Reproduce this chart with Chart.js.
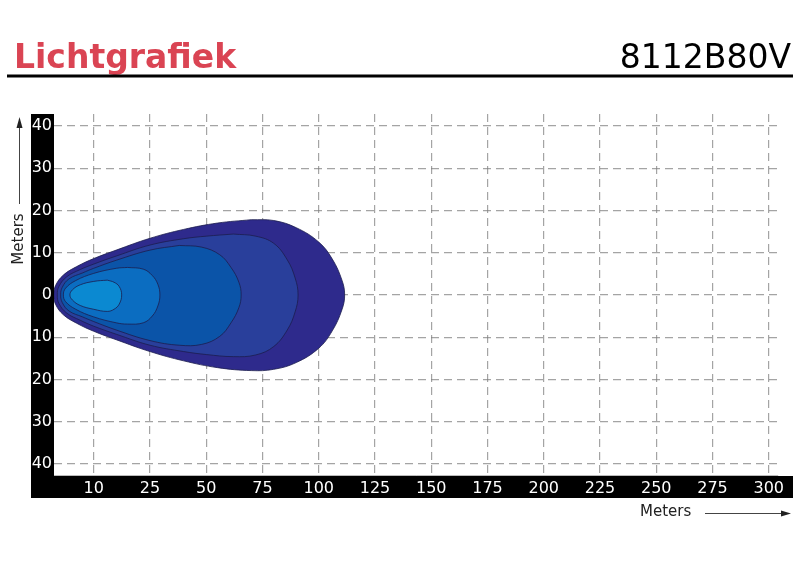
<!DOCTYPE html>
<html>
<head>
<meta charset="utf-8">
<script src="https://cdn.jsdelivr.net/npm/chart.js@4.4.1/dist/chart.umd.min.js"></script>
<style>
  html, body { margin: 0; padding: 0; background: #ffffff; }
  #wrap { width: 800px; height: 574px; }
</style>
</head>
<body>
<div id="wrap"><canvas id="chart" width="800" height="574"></canvas></div>
<script>
// Axis ticks (the first grid line is labelled 10 in the original sheet)
const xTickValues = [0, 25, 50, 75, 100, 125, 150, 175, 200, 225, 250, 275, 300];
const xTickLabels = ['10', '25', '50', '75', '100', '125', '150', '175', '200', '225', '250', '275', '300'];
const yTickValues = [-40, -30, -20, -10, 0, 10, 20, 30, 40];

// Iso-lux contours, [meters ahead, meters sideways]
const contourOuter = [[70, 17.8], [80, 17.6], [90, 15.9], [100, 12.5], [106, 8.5], [110.3, 3.5], [111.5, 0],
  [110.3, -3.5], [106, -8.5], [100, -12.6], [90, -16.0], [80, -17.6], [70, -17.9], [55, -17.2], [40, -15.6],
  [25, -13.4], [10, -10.6], [0, -8.6], [-7.6, -6.7], [-13.5, -4.7], [-17, -2.2], [-17.8, 0], [-17, 2.2],
  [-13.5, 4.7], [-7.6, 6.7], [0, 8.6], [10, 10.6], [25, 13.4], [40, 15.5], [55, 17.0], [70, 17.8]];
const contourSecond = [[62, 14.4], [72, 13.9], [80, 12.2], [86, 8.3], [89.5, 4], [90.8, 0], [89.5, -4],
  [86, -8.3], [80, -12.2], [72, -14.2], [62, -14.6], [50, -14.1], [40, -13.4], [25, -11.9], [10, -9.3],
  [0, -7.4], [-6, -6], [-12, -4.3], [-15.5, -2], [-16.2, 0], [-15.5, 2], [-12, 4.3], [-6, 6], [0, 7.3],
  [10, 9.2], [25, 11.8], [40, 13.3], [50, 13.9], [62, 14.4]];
const contourThird = [[38, 11.7], [48, 11.3], [56, 9.5], [61, 6.5], [64.5, 3], [65.5, 0], [64.5, -3],
  [61, -6.6], [56, -9.8], [48, -11.7], [38, -11.9], [25, -10.8], [10, -8.3], [0, -6.3], [-5, -5.2],
  [-11, -3.8], [-14, -1.8], [-14.7, 0], [-14, 1.8], [-11, 3.8], [-5, 5.2], [0, 6.3], [10, 8.2],
  [25, 10.6], [38, 11.7]];
const contourFourth = [[15, 6.5], [22, 6.1], [26, 4.6], [28.5, 2.5], [29.4, 0], [28.5, -2.6], [26, -5.0],
  [22, -6.6], [15, -6.9], [10, -6.6], [0, -5.2], [-8, -3.4], [-12.5, -1.6], [-13.5, 0], [-12.5, 1.6],
  [-8, 3.4], [0, 5.1], [10, 6.3], [15, 6.5]];
const contourInner = [[6, 3.5], [9, 3.0], [11.3, 2.0], [12.4, 0], [11.3, -2.2], [9, -3.4], [6, -3.9],
  [0, -3.4], [-6, -2.5], [-9.5, -1.2], [-10.6, 0], [-9.5, 1.2], [-6, 2.4], [0, 3.2], [6, 3.5]];

const contours = [contourInner, contourFourth, contourThird, contourSecond, contourOuter];
const fillColors = ['#0b89d1', '#0b6dc1', '#0b54a8', '#293f9b', '#2e2a8c'];

const FONT = "'DejaVu Sans', Verdana, sans-serif";

// black axis bands, title, rule and axis names
const decor = {
  id: 'decor',
  beforeDraw(chart) {
    const { ctx, chartArea: a } = chart;
    ctx.save();
    ctx.fillStyle = '#ffffff';
    ctx.fillRect(0, 0, chart.width, chart.height);
    ctx.fillStyle = '#000000';
    ctx.fillRect(31, a.top, a.left - 31, 498 - a.top);
    ctx.fillRect(31, a.bottom + 1, 793 - 31, 498 - a.bottom - 1);
    ctx.restore();
  },
  afterDraw(chart) {
    const ctx = chart.ctx;
    ctx.save();
    ctx.textBaseline = 'alphabetic';
    ctx.font = 'bold 33px ' + FONT;
    ctx.fillStyle = '#da4453';
    ctx.textAlign = 'left';
    ctx.fillText('Lichtgrafiek', 14, 68);
    ctx.font = '33px ' + FONT;
    ctx.fillStyle = '#000000';
    ctx.textAlign = 'right';
    ctx.fillText('8112B80V', 791, 68);

    ctx.fillRect(7, 74.5, 786, 3);

    // axis names with arrows
    ctx.fillStyle = '#222222';
    ctx.strokeStyle = '#444444';
    ctx.lineWidth = 1;
    ctx.font = '15px ' + FONT;
    ctx.textAlign = 'left';
    ctx.textBaseline = 'middle';
    ctx.fillText('Meters', 640, 512);
    ctx.beginPath();
    ctx.moveTo(705, 513.5);
    ctx.lineTo(783, 513.5);
    ctx.stroke();
    ctx.beginPath();
    ctx.moveTo(791, 513.5);
    ctx.lineTo(781, 510.5);
    ctx.lineTo(781, 516.5);
    ctx.closePath();
    ctx.fill();

    ctx.save();
    ctx.translate(19, 239);
    ctx.rotate(-Math.PI / 2);
    ctx.textAlign = 'center';
    ctx.fillText('Meters', 0, 0);
    ctx.restore();
    ctx.beginPath();
    ctx.moveTo(19.5, 204);
    ctx.lineTo(19.5, 126);
    ctx.stroke();
    ctx.beginPath();
    ctx.moveTo(19.5, 117);
    ctx.lineTo(16.5, 128);
    ctx.lineTo(22.5, 128);
    ctx.closePath();
    ctx.fill();
    ctx.restore();
  }
};

const gridStyle = {
  color: 'rgba(125, 125, 125, 0.7)',
  lineWidth: 1.2,
  drawTicks: false
};

const config = {
  type: 'line',
  data: {
    datasets: contours.map((c, i) => ({
      data: c.map(p => ({ x: p[0], y: p[1] })),
      backgroundColor: fillColors[i],
      borderColor: '#1c1d4e',
      borderWidth: 0.8,
      fill: 'shape',
      pointRadius: 0,
      tension: 0.4
    }))
  },
  options: {
    responsive: false,
    animation: false,
    events: [],
    layout: { padding: { top: 114, left: 31, right: 22, bottom: 76 } },
    plugins: {
      legend: { display: false },
      tooltip: { enabled: false },
      title: { display: false }
    },
    scales: {
      x: {
        type: 'linear',
        min: -17.67,
        max: 304.1,
        z: 1,
        afterBuildTicks: s => { s.ticks = xTickValues.map(v => ({ value: v })); },
        afterFit: s => { s.height = 23; },
        grid: { ...gridStyle },
        border: { display: true, color: '#bbbbbb', width: 1, dash: [8, 5] },
        ticks: {
          color: '#ffffff',
          padding: 4,
          maxRotation: 0,
          autoSkip: false,
          font: { size: 16, family: FONT },
          callback: v => xTickLabels[xTickValues.indexOf(v)]
        }
      },
      y: {
        type: 'linear',
        min: -42.6,
        max: 42.8,
        z: 1,
        afterBuildTicks: s => { s.ticks = yTickValues.map(v => ({ value: v })); },
        afterFit: s => { s.width = 23; },
        grid: { ...gridStyle },
        border: { display: false, dash: [8, 5] },
        ticks: {
          color: '#ffffff',
          padding: 2,
          autoSkip: false,
          font: { size: 16, family: FONT },
          callback: v => String(Math.abs(v))
        }
      }
    }
  },
  plugins: [decor]
};

new Chart(document.getElementById('chart'), config);
</script>
</body>
</html>
